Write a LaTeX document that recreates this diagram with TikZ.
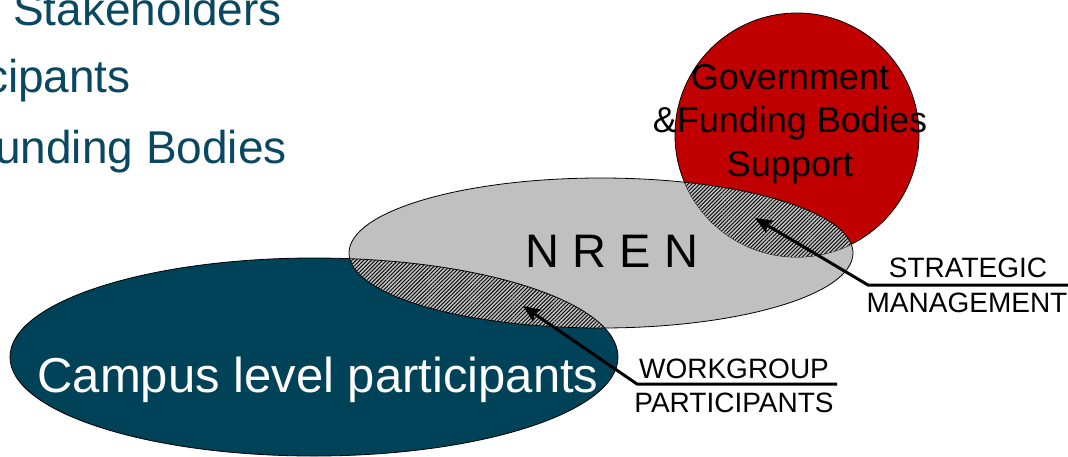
\documentclass[tikz,border=0pt]{standalone}
\usepackage{fontspec}
\setmainfont{Liberation Sans}
\usetikzlibrary{arrows.meta,patterns.meta}
\definecolor{ccolor}{RGB}{0,66,88}
\definecolor{gcolor}{RGB}{192,0,0}
\definecolor{ncolor}{RGB}{192,192,192}
\definecolor{tcolor}{RGB}{10,72,98}

\begin{document}
\begin{tikzpicture}[
    x = 1pt, y = -1pt, >={Stealth[length = 17pt, width = 14pt, inset = 3pt]},
    big/.style  = {font = \fontsize{46}{46}\selectfont, text = tcolor, inner sep = 0pt},
    lbl/.style  = {font = \fontsize{28}{28}\selectfont, inner sep = 0pt},
    gov/.style  = {font = \fontsize{36}{43.5}\selectfont, align = center, inner sep = 0pt},
    hatch/.style = {pattern = {Lines[angle = 45, distance = 2.7pt, line width = .9pt]}},
    edge/.style = {draw = black, line width = .8pt},
    arr/.style  = {line width = 3pt, ->}
    ]

\useasboundingbox (0,0) rectangle (1068,456);
\clip (0,0) rectangle (1068,456);

\def\CE{(314,357) ellipse [x radius = 304, y radius = 99]} % campus ellipse
\def\NE{(601,253) ellipse [x radius = 252, y radius = 75]} % NREN ellipse
\def\GC{(797,135) circle [radius = 122]}                   % funding circle

    % text of the slide, cut by the frame
    \node (st) at (282, 25)  [big, anchor = base east]{Stakeholders};
    \node (pa) at (131, 92)  [big, anchor = base east]{cipants};
    \node (fb) at (287, 163) [big, anchor = base east]{unding Bodies};

    \path [fill = ccolor, edge] \CE;
    \path [fill = ncolor, edge] \NE;
\begin{scope}
    \clip \NE;
    \path [hatch, edge] \CE;
\end{scope}
    \path [fill = gcolor, edge] \GC;
\begin{scope}
    \clip \GC;
    \path [fill = ncolor] \NE;
    \path [hatch, edge] \NE;
\end{scope}

    \node (cl) at (318, 392) [anchor = base, text = white, inner sep = 0pt,
        font = \fontsize{49}{49}\selectfont]{Campus level participants};
    \node (nr) at (612, 267) [anchor = base, inner sep = 0pt,
        font = \fontsize{47}{47}\selectfont]{N R E N};
    \node (gf) at (790, 124) [gov]{Government\\\&Funding Bodies\\Support};

    % labels and their arrows
    \node (wg) at (734, 378) [lbl, anchor = base]{WORKGROUP};
    \node (wp) at (734, 412) [lbl, anchor = base]{PARTICIPANTS};
    \node (sg) at (968, 277) [lbl, anchor = base]{STRATEGIC};
    \node (sm) at (967, 312) [lbl, anchor = base]{MANAGEMENT};

    \coordinate (wk) at (637, 384);
    \coordinate (we) at (837, 384);
    \coordinate (wt) at (523, 306);
    \coordinate (sk) at (868, 285);
    \coordinate (se) at (1075, 285);
    \coordinate (stp) at (755, 218);

    \draw [arr] (we) -- (wk) -- (wt);
    \draw [arr] (se) -- (sk) -- (stp);
\end{tikzpicture}
\end{document}
